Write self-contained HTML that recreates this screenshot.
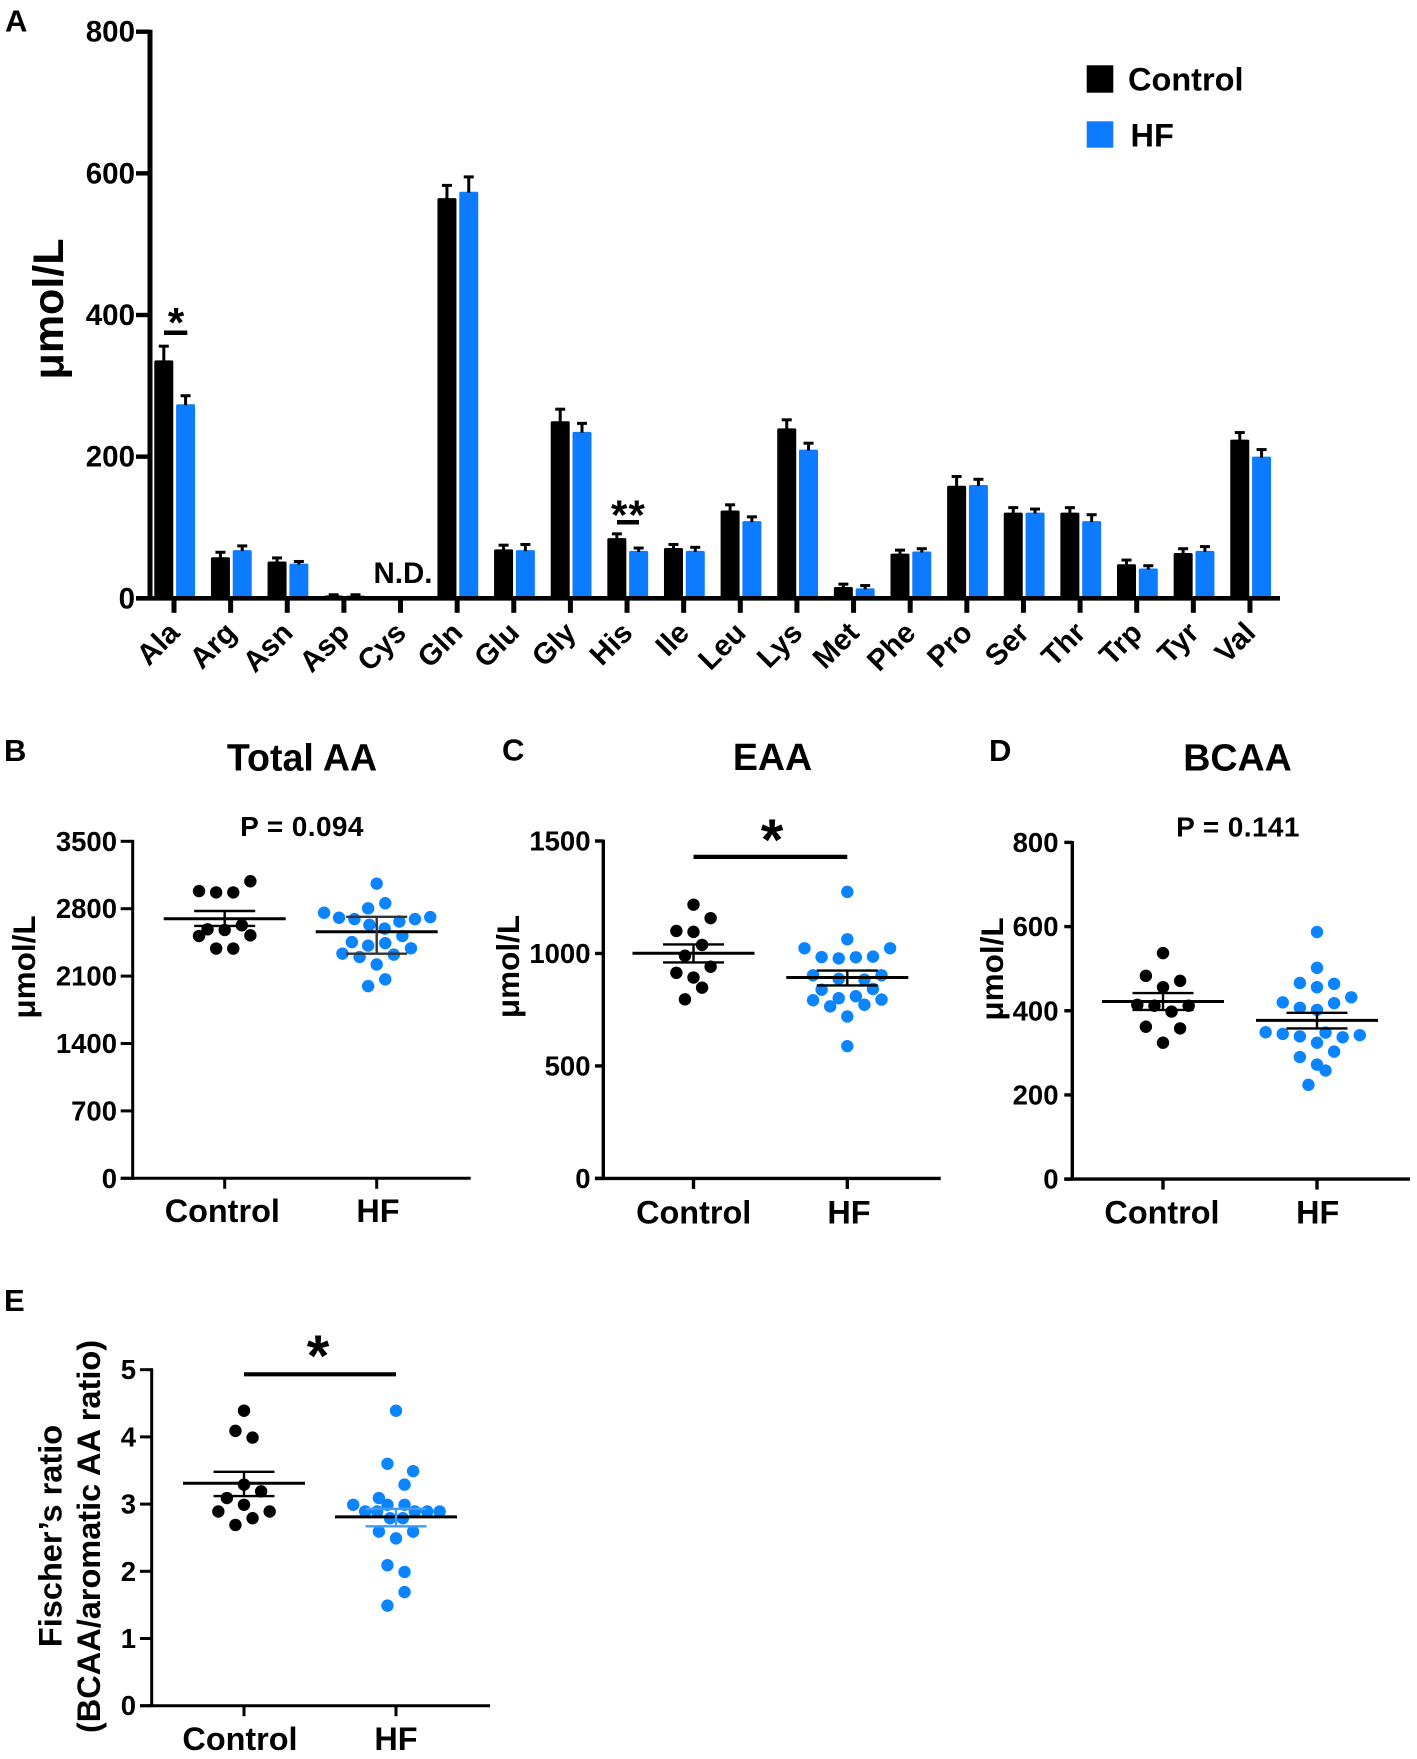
<!DOCTYPE html>
<html lang="en">
<head>
<meta charset="utf-8">
<title>Plasma amino acid levels in control and HF groups</title>
<style>
html,body{margin:0;padding:0;background:#fff;width:1417px;height:1759px;overflow:hidden}
svg{display:block}
text{font-family:"Liberation Sans",Arial,sans-serif;font-weight:bold;fill:#000}
</style>
</head>
<body>
<svg id="figure" xmlns="http://www.w3.org/2000/svg" width="1417" height="1759" viewBox="0 0 1417 1759">
  <rect width="1417" height="1759" fill="#fff"/>

  <text x="5" y="31.500" font-size="31">A</text>
  <text x="4" y="761" font-size="31">B</text>
  <text x="502" y="760.500" font-size="31">C</text>
  <text x="989" y="761" font-size="31">D</text>
  <text x="4" y="1311" font-size="31">E</text>

  <text transform="translate(63,309) rotate(-90)" text-anchor="middle" font-size="43">μmol/L</text>
  <text x="403" y="583" text-anchor="middle" font-size="29.500">N.D.</text>
  <rect x="1086.700" y="65.300" width="26.600" height="27.400" fill="#000"/>
  <rect x="1086.700" y="121.300" width="26.600" height="26.400" fill="#0d7bff"/>
  <text x="1128" y="90.700" font-size="32.500">Control</text>
  <text x="1130.500" y="146.700" font-size="32.500">HF</text>
  <text x="176" y="337" text-anchor="middle" font-size="42">*</text>
  <text x="628.500" y="529.600" text-anchor="middle" font-size="42" letter-spacing="1.200">**</text>

  <text x="302" y="770.500" text-anchor="middle" font-size="37.600">Total AA</text>
  <text x="302" y="836" text-anchor="middle" font-size="28" letter-spacing="0.400">P = 0.094</text>
  <text transform="translate(35,967) rotate(-90)" text-anchor="middle" font-size="31.500">μmol/L</text>

  <text x="772.500" y="770" text-anchor="middle" font-size="37.600">EAA</text>
  <text x="772" y="860" text-anchor="middle" font-size="58">*</text>
  <text transform="translate(519,966.500) rotate(-90)" text-anchor="middle" font-size="31.500">μmol/L</text>

  <text x="1237.500" y="770.500" text-anchor="middle" font-size="37.600">BCAA</text>
  <text x="1238" y="836.500" text-anchor="middle" font-size="28" letter-spacing="0.400">P = 0.141</text>
  <text transform="translate(1003,969) rotate(-90)" text-anchor="middle" font-size="31.500">μmol/L</text>

  <text x="318" y="1376" text-anchor="middle" font-size="58">*</text>
  <text transform="translate(61.500,1536) rotate(-90)" text-anchor="middle" font-size="32.500">Fischer’s ratio</text>
  <text transform="translate(100,1536.500) rotate(-90)" text-anchor="middle" font-size="32.500">(BCAA/aromatic AA ratio)</text>
</svg>

<script>
/* ---------- Panel A data ---------- */
const aminoAcids = ['Ala','Arg','Asn','Asp','Cys','Gln','Glu','Gly','His','Ile','Leu','Lys','Met','Phe','Pro','Ser','Thr','Trp','Tyr','Val'];
const controlMeans = [336,58,52,4,null,565,69,250,85,71,124,240,16,63,159,121,121,48,64,224];
const controlErrorTops = [356,65,57,5,null,583,75,267,91,76,132,252,20,68,172,128,128,54,70,234];
const hfMeans = [274,68,49,4,null,574,68,235,67,67,109,210,14,66,160,121,109,42,67,200];
const hfErrorTops = [286,74,52,5,null,595,76,247,71,72,115,219,18,70,168,126,118,46,73,210];
const aTickValues = [0,200,400,600,800];
const aTickLabels = ['0','200','400','600','800'];

/* ---------- Group names ---------- */
const groupNames = ['Control','HF'];

/* ---------- Panel B data ---------- */
const bTickValues = [0,700,1400,2100,2800,3500];
const bTickLabels = ['0','700','1400','2100','2800','3500'];
const bControlValues = [2983,2969,2969,3085,2586,2628,2579,2516,2523,2386,2386];
const bControlSlots = [-3,-1,1,3,-2,2,0,-3,3,-1,1];
const bHfValues = [3060,2857,2804,2758,2706,2692,2632,2593,2667,2692,2713,2516,2453,2417,2442,2389,2333,2298,2323,2221,2066,1996];
const bHfSlots = [0,1,-1,-6.15,-4.4,-2.6,-0.85,0.93,2.65,4.47,6.26,3,-2.9,-1,1,4,-4,-2,2,0,1,-1];
const bControlStats = [2695,2776,2621];
const bHfStats = [2561,2716,2333];

/* ---------- Panel C data ---------- */
const cTickValues = [0,500,1000,1500];
const cTickLabels = ['0','500','1000','1500'];
const cControlValues = [1217,1157,1100,1096,1038,990,941,914,893,848,796];
const cControlSlots = [0,2,-2,0,1,-1,2,-2,0,1,-1];
const cHfValues = [1274,1063,1023,1023,984,978,983,986,903,903,887,884,839,842,810,801,792,795,772,765,720,588];
const cHfSlots = [0,0,-5,5,-3,-1,1,3,-4,4,-1,2,-3,3,1,-1,-4,4,2,-2,0,0];
const cControlStats = [1001,1040,960];
const cHfStats = [893,924,858];

/* ---------- Panel D data ---------- */
const dTickValues = [0,200,400,600,800];
const dTickLabels = ['0','200','400','600','800'];
const dControlValues = [537,483,471,456,414,412,412,398,362,358,324];
const dControlSlots = [0,-2,2,0,-3,-1,3,1,-2,2,0];
const dHfValues = [587,502,466,464,456,432,420,418,407,402,349,345,339,348,337,342,324,303,290,272,258,224];
const dHfSlots = [0,0,-2,2,0,4,-4,2,-2,0,-6,-4,-2,1,3,5,0,2,-2,0,1,-1];
const dControlStats = [422,442,402];
const dHfStats = [377,395,358];

/* ---------- Panel E data ---------- */
const eTickValues = [0,1,2,3,4,5];
const eTickLabels = ['0','1','2','3','4','5'];
const eControlValues = [4.39,4.09,3.99,3.29,3.19,3.09,2.99,2.89,2.89,2.79,2.69];
const eControlSlots = [0,-1,1,0,2,-2,0,-3,3,1,-1];
const eHfValues = [4.39,3.6,3.49,3.29,3.09,2.99,2.99,2.99,2.89,2.89,2.89,2.89,2.89,2.79,2.79,2.59,2.59,2.49,2.09,1.99,1.69,1.49];
const eHfSlots = [0,-1,2,1,-2,-5,-1,1,-3.6,-2.2,2.2,3.65,5.1,-0.7,0.8,-2,2,0,-1,1,1,-1];
const eControlStats = [3.31,3.48,3.12];
const eHfStats = [2.81,2.93,2.67];

/* ---------- Drawing helpers ---------- */
const SVG_NS = 'http://www.w3.org/2000/svg';
const figure = document.getElementById('figure');
const BLACK = '#000000';
const BLUE = '#0d7bff';
const DOT_BLUE = '#0a84ff';

function makeLine(name, x1, y1, x2, y2, stroke, width) {
  const el = document.createElementNS(SVG_NS, 'line');
  
  
  el.setAttribute('x1', x1);
  el.setAttribute('y1', y1);
  el.setAttribute('x2', x2);
  el.setAttribute('y2', y2);
  el.setAttribute('stroke', stroke);
  el.setAttribute('stroke-width', width);
  figure.appendChild(el);
  return el;
}
function makeRect(name, x, y, w, h, fill) {
  const el = document.createElementNS(SVG_NS, 'rect');
  
  
  el.setAttribute('x', x);
  el.setAttribute('y', y);
  el.setAttribute('width', w);
  el.setAttribute('height', h);
  el.setAttribute('rx', 1.5);
  el.setAttribute('fill', fill);
  figure.appendChild(el);
  return el;
}
function makeDot(name, x, y, r, fill) {
  const el = document.createElementNS(SVG_NS, 'circle');
  
  
  el.setAttribute('cx', x);
  el.setAttribute('cy', y);
  el.setAttribute('r', r);
  el.setAttribute('fill', fill);
  figure.appendChild(el);
  return el;
}
function makeText(name, str, x, y, size, anchor, rotate) {
  const el = document.createElementNS(SVG_NS, 'text');
  
  
  el.setAttribute('font-size', size);
  el.setAttribute('text-anchor', anchor);
  if (rotate) {
    el.setAttribute('transform', 'translate(' + x + ',' + y + ') rotate(' + rotate + ')');
  } else {
    el.setAttribute('x', x);
    el.setAttribute('y', y);
  }
  el.textContent = str;
  figure.appendChild(el);
  return el;
}

/* ---------- Panel A ---------- */
(function drawBarPanel() {
  const axisX = 150, baseY = 598.3, topY = 31.7, maxV = 800;
  const firstTick = 174, tickStep = 56.63;
  const yScale = v => baseY - v * (baseY - topY) / maxV;
  const xScale = i => firstTick + i * tickStep;

  function drawBar(prefix, i, value, top, color, offset) {
    if (value === null) return;
    const cx = xScale(i) + offset;
    makeRect(prefix + '-bar-' + aminoAcids[i].toLowerCase(), cx - 9.5, yScale(value), 19, baseY - yScale(value), color);
    makeLine(prefix + '-error-stem-' + aminoAcids[i].toLowerCase(), cx, yScale(value) + 1, cx, yScale(top), BLACK, 3);
    makeLine(prefix + '-error-cap-' + aminoAcids[i].toLowerCase(), cx - 5, yScale(top), cx + 5, yScale(top), BLACK, 3);
  }
  aminoAcids.forEach((name, i) => {
    drawBar('control', i, controlMeans[i], controlErrorTops[i], BLACK, -10.2);
    drawBar('hf', i, hfMeans[i], hfErrorTops[i], BLUE, 11.6);
    makeLine('x-tick-' + name.toLowerCase(), xScale(i), baseY, xScale(i), baseY + 14.5, BLACK, 5);
    makeText('x-tick-label-' + name.toLowerCase(), name, xScale(i) + 7.2, baseY + 36.2, 29.5, 'end', -45);
  });
  makeLine('panel-a-x-axis', 136, baseY, 1280, baseY, BLACK, 4.6);
  makeLine('panel-a-y-axis', axisX, topY - 2, axisX, baseY + 2, BLACK, 5);
  aTickValues.forEach((v, i) => {
    makeLine('panel-a-y-tick-' + aTickLabels[i], 136, yScale(v), axisX, yScale(v), BLACK, 4.4);
    makeText('panel-a-y-tick-label-' + aTickLabels[i], aTickLabels[i], 135, yScale(v) + 10, 29.5, 'end');
  });
  makeLine('significance-bar-ala', 164, 332.7, 187.3, 332.7, BLACK, 4.5);
  makeLine('significance-bar-his', 617, 522.3, 639, 522.3, BLACK, 4.5);
})();

/* ---------- Panels B–E ---------- */
function drawSwarmPanel(p) {
  const yScale = v => p.baseY - v * (p.baseY - p.topY) / p.maxV;
  const slotX = (center, slot) => center + slot * 8.56;

  function drawGroup(label, center, values, slots, stats, color, name) {
    values.forEach((v, i) => {
      makeDot(p.id + '-' + name + '-dot-' + (i + 1), slotX(center, slots[i]), yScale(v), 6.2, color);
    });
    const semColor = p.id === 'panel-e' && name === 'hf' ? '#3f9cff' : (p.id === 'panel-b' && name === 'hf' ? '#333333' : BLACK);
    makeLine(p.id + '-' + name + '-mean-line', center - 61, yScale(stats[0]), center + 61, yScale(stats[0]), BLACK, 3);
    makeLine(p.id + '-' + name + '-error-stem', center, yScale(stats[1]), center, yScale(stats[2]), semColor, 2.4);
    makeLine(p.id + '-' + name + '-error-cap-upper', center - 30.5, yScale(stats[1]), center + 30.5, yScale(stats[1]), semColor, 2.4);
    makeLine(p.id + '-' + name + '-error-cap-lower', center - 30.5, yScale(stats[2]), center + 30.5, yScale(stats[2]), semColor, 2.4);
  }
  drawGroup(groupNames[0], p.controlX, p.controlValues, p.controlSlots, p.controlStats, BLACK, 'control');
  drawGroup(groupNames[1], p.hfX, p.hfValues, p.hfSlots, p.hfStats, DOT_BLUE, 'hf');

  makeLine(p.id + '-y-axis', p.axisX, p.topY - 1.4, p.axisX, p.baseY + 1.4, BLACK, p.axisW);
  makeLine(p.id + '-x-axis', p.tickLeft, p.baseY, p.axisRight, p.baseY, BLACK, p.axisW);
  p.tickValues.forEach((v, i) => {
    makeLine(p.id + '-y-tick-' + p.tickLabels[i], p.tickLeft, yScale(v), p.axisX, yScale(v), BLACK, p.axisW);
    makeText(p.id + '-y-tick-label-' + p.tickLabels[i], p.tickLabels[i], p.labelRight, yScale(v) + 9.5, 27.5, 'end');
  });
  [p.controlX, p.hfX].forEach((x, i) => {
    makeLine(p.id + '-x-tick-' + groupNames[i].toLowerCase(), x, p.baseY, x, p.baseY + 10.5, BLACK, p.axisW);
  });
  makeText(p.id + '-x-label-control', groupNames[0], p.controlLabelX, p.labelBase, 32.4, 'middle');
  makeText(p.id + '-x-label-hf', groupNames[1], p.hfLabelX, p.labelBase, 32.4, 'middle');
  if (p.sigY) {
    makeLine(p.id + '-significance-bar', p.controlX, p.sigY, p.hfX, p.sigY, BLACK, 4.2);
  }
}

drawSwarmPanel({
  id: 'panel-b', axisX: 132.7, axisW: 3, tickLeft: 120.7, axisRight: 470.7,
  topY: 841.3, baseY: 1178.3, maxV: 3500, labelRight: 117,
  controlX: 224.7, hfX: 376.7, controlLabelX: 222.3, hfLabelX: 378, labelBase: 1222,
  tickValues: bTickValues, tickLabels: bTickLabels,
  controlValues: bControlValues, controlSlots: bControlSlots, controlStats: bControlStats,
  hfValues: bHfValues, hfSlots: bHfSlots, hfStats: bHfStats
});
drawSwarmPanel({
  id: 'panel-c', axisX: 603.3, axisW: 3.4, tickLeft: 595, axisRight: 940.7,
  topY: 841, baseY: 1178.4, maxV: 1500, labelRight: 590.5,
  controlX: 693.5, hfX: 847.3, controlLabelX: 693.7, hfLabelX: 849, labelBase: 1223.7, sigY: 856.9,
  tickValues: cTickValues, tickLabels: cTickLabels,
  controlValues: cControlValues, controlSlots: cControlSlots, controlStats: cControlStats,
  hfValues: cHfValues, hfSlots: cHfSlots, hfStats: cHfStats
});
drawSwarmPanel({
  id: 'panel-d', axisX: 1072.3, axisW: 3.4, tickLeft: 1064.3, axisRight: 1410,
  topY: 842.4, baseY: 1179.1, maxV: 800, labelRight: 1058.5,
  controlX: 1163, hfX: 1317, controlLabelX: 1162, hfLabelX: 1317.7, labelBase: 1223.7,
  tickValues: dTickValues, tickLabels: dTickLabels,
  controlValues: dControlValues, controlSlots: dControlSlots, controlStats: dControlStats,
  hfValues: dHfValues, hfSlots: dHfSlots, hfStats: dHfStats
});
drawSwarmPanel({
  id: 'panel-e', axisX: 151.7, axisW: 3, tickLeft: 140, axisRight: 490,
  topY: 1369.7, baseY: 1705.7, maxV: 5, labelRight: 136,
  controlX: 244, hfX: 396, controlLabelX: 240, hfLabelX: 396, labelBase: 1750, sigY: 1374.3,
  tickValues: eTickValues, tickLabels: eTickLabels,
  controlValues: eControlValues, controlSlots: eControlSlots, controlStats: eControlStats,
  hfValues: eHfValues, hfSlots: eHfSlots, hfStats: eHfStats
});
</script>
</body>
</html>
